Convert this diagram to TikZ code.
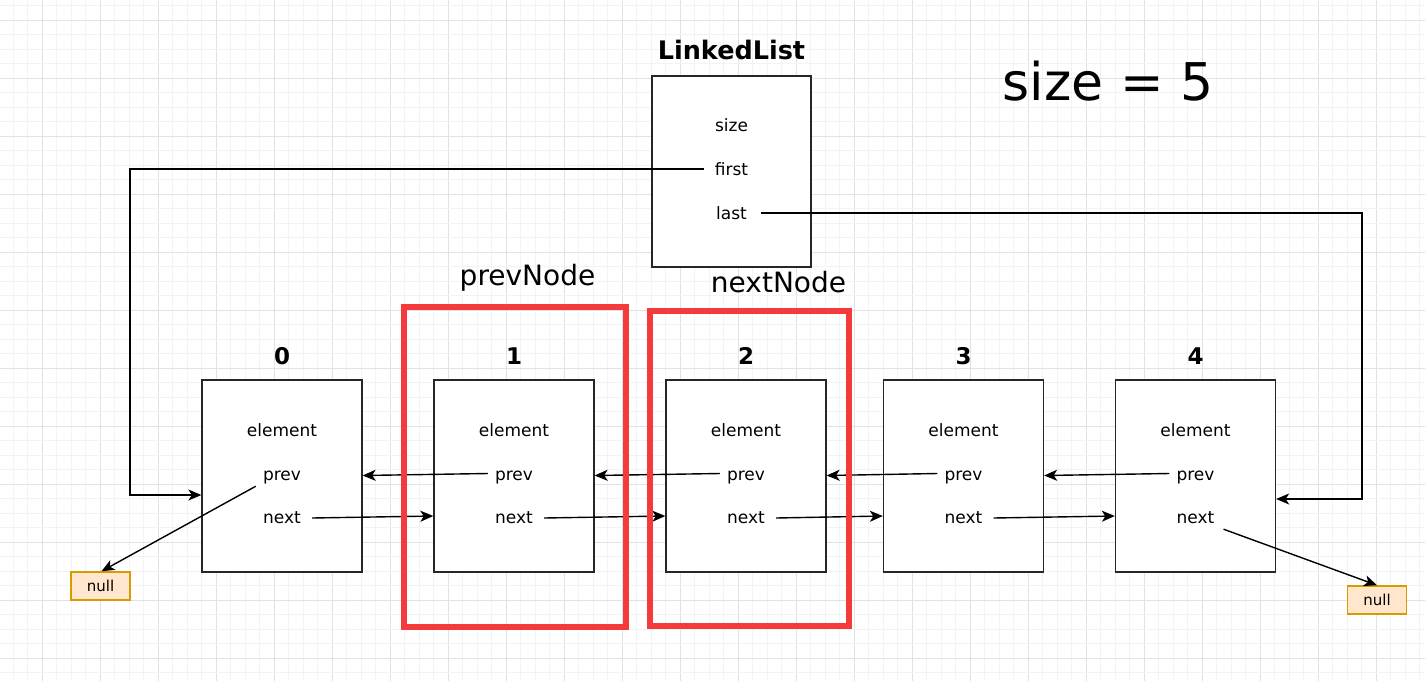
\documentclass[tikz,border=0pt]{standalone}
\usepackage{fontspec}
\setmainfont{DejaVu Sans}
\usetikzlibrary{arrows.meta}

\definecolor{gridmajor}{HTML}{E2E2E2}
\definecolor{gridminor}{HTML}{F3F3F3}
\definecolor{hlred}{HTML}{F43A3A}
\definecolor{nullfill}{HTML}{FFE6CC}
\definecolor{nullborder}{HTML}{D79B00}

\tikzset{
  listbox/.style={draw=black!85, fill=white, line width=1.3pt, minimum width=160pt,
    minimum height=192pt, inner sep=0pt},
  field/.style={font=\fontsize{17}{20}\selectfont, inner sep=1pt, anchor=base,
    text height=0.8em, text depth=0.2em},
  idx/.style={font=\bfseries\fontsize{23}{26}\selectfont, anchor=base, inner sep=0pt},
  caption/.style={font=\fontsize{28}{32}\selectfont, anchor=base, inner sep=0pt},
  nullbox/.style={draw=nullborder, fill=nullfill, line width=1.5pt, minimum width=59pt,
    minimum height=28pt, inner sep=0pt, font=\fontsize{15}{18}\selectfont},
  hlbox/.style={draw=hlred, line width=6pt},
  link/.style={-{Stealth[length=13pt,width=11pt,inset=3.5pt]}, line width=1.4pt},
}

\begin{document}
\begin{tikzpicture}[x=1pt,y=-1pt]
  \useasboundingbox (0,0) rectangle (1425,681);
  \fill[white] (0,0) rectangle (1425,681);

  % background grid: faint minor lines, darker line every fourth
  \foreach \i in {-2,...,95}{
    \pgfmathsetmacro{\gx}{42+14.5*\i}
    \pgfmathtruncatemacro{\m}{mod(\i+100,4)}
    \ifnum\m=0
      \draw[gridmajor, line width=1pt] (\gx,0) -- (\gx,681);
    \else
      \draw[gridminor, line width=1pt] (\gx,0) -- (\gx,681);
    \fi
  }
  \foreach \j in {-1,...,46}{
    \pgfmathsetmacro{\gy}{20+14.5*\j}
    \pgfmathtruncatemacro{\m}{mod(\j+100,4)}
    \ifnum\m=0
      \draw[gridmajor, line width=1pt] (0,\gy) -- (1425,\gy);
    \else
      \draw[gridminor, line width=1pt] (0,\gy) -- (1425,\gy);
    \fi
  }

  % LinkedList header object
  \node[listbox, minimum width=159pt, minimum height=191pt] (ll) at (731.5,171.5) {};
  \node[font=\bfseries\fontsize{25.5}{30}\selectfont, anchor=base, inner sep=0pt] (lltitle) at (731.5,59) {LinkedList};
  \node[field] (size) at (731.5,131.5) {size};
  \node[field] (first) at (731.5,175) {first};
  \node[field] (last) at (731.5,219) {last};

  \node[font=\fontsize{52}{60}\selectfont, anchor=base, inner sep=0pt] (count) at (1108,100) {size = 5};

  % list nodes 0..4
  \foreach \k/\cx in {0/282, 1/514, 2/746, 3/963.5, 4/1195.5}{
    \node[listbox] (b\k) at (\cx,476) {};
    \node[idx] (t\k) at (\cx,364) {\k};
    \node[field] (e\k) at (\cx,436) {element};
    \node[field] (p\k) at (\cx,480) {prev};
    \node[field] (n\k) at (\cx,523) {next};
  }

  % null terminals
  \node[nullbox] (nullL) at (100.5,586) {null};
  \node[nullbox] (nullR) at (1377,600) {null};

  % first / last references
  \coordinate (fturn) at (130,495);
  \coordinate (lturn) at (1362,499);
  \draw[link] ([xshift=-10pt,yshift=3pt]first.west) -| (fturn) -- (fturn -| b0.west);
  \draw[link] ([xshift=13pt,yshift=3pt]last.east) -| (lturn) -- (lturn -| b4.east);

  % next pointers
  \foreach \a/\b in {0/1, 1/2, 2/3, 3/4}{
    \draw[link] ([xshift=10pt,yshift=2pt]n\a.east) -- ([yshift=4pt]b\b.west |- n\a.east);
  }
  % prev pointers
  \foreach \a/\b in {1/0, 2/1, 3/2, 4/3}{
    \draw[link] ([xshift=-6pt,yshift=3.5pt]p\a.west) -- ([yshift=1.5pt]b\b.east |- p\a.west);
  }

  % ends of the list
  \draw[link] ([xshift=-6pt,yshift=-3pt]p0.south west) -- ([xshift=1pt]nullL.north);
  \draw[link] ([xshift=8pt,yshift=-3pt]n4.south east) -- (nullR.north);

  % highlighted neighbours
  \node[hlbox, minimum width=222pt, minimum height=320pt, inner sep=0pt] (hlprev) at (515,467) {};
  \node[hlbox, minimum width=199pt, minimum height=315pt, inner sep=0pt] (hlnext) at (749.5,468) {};
  \node[caption] (prevcap) at (527.5,285) {prevNode};
  \node[caption] (nextcap) at (778.5,292) {nextNode};
\end{tikzpicture}
\end{document}
